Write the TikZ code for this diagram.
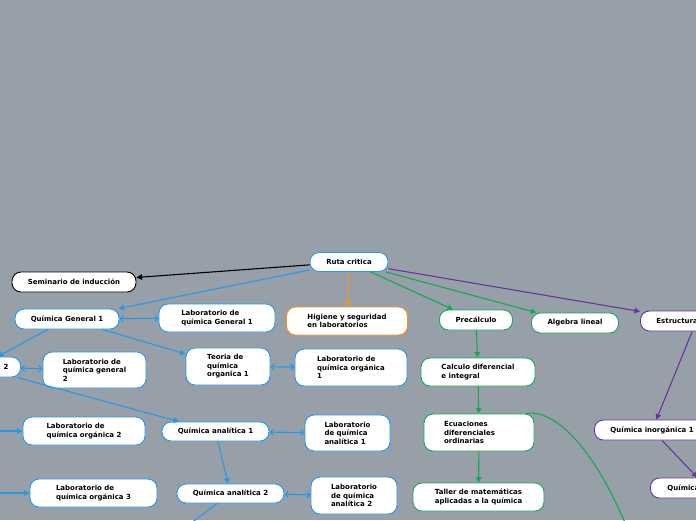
\documentclass[tikz,border=0pt]{standalone}
\usepackage{fontspec}
\setmainfont{DejaVu Sans}
\usepackage{xcolor}
\usetikzlibrary{arrows.meta}
\definecolor{bgc}{RGB}{151,160,169}
\definecolor{blu}{RGB}{40,152,228}
\definecolor{grn}{RGB}{22,166,88}
\definecolor{org}{RGB}{246,146,30}
\definecolor{prp}{RGB}{104,52,156}

\begin{document}
\begin{tikzpicture}[x=1pt,y=-1pt,>={Triangle[length=5.5pt,width=5.5pt]},
  bx/.style={draw=blu,fill=white,line width=0.9pt,rounded corners=9pt,align=left,
    font=\fontsize{7}{8.5}\selectfont\bfseries,minimum height=20pt,inner xsep=8pt,inner ysep=2pt},
  ln/.style={line width=1.1pt,blu},
  dbl/.style={line width=1.1pt,blu,{Straight Barb[length=3pt,width=6pt]}-{Straight Barb[length=3pt,width=6pt]}}]
  \useasboundingbox (0,0) rectangle (696,520);
  \fill[bgc] (0,0) rectangle (696,520);
  \clip (0,0) rectangle (696,520);
  \node[bx,minimum width=78pt,minimum height=19pt](rc) at (349,262){Ruta critica};
  \node[bx,draw=black,minimum width=124pt](sem) at (74,282){Seminario de inducción};
  \node[bx,minimum width=104pt](qg1) at (67,319){Química General 1};
  \node[bx,minimum width=116pt,minimum height=28pt](lqg1) at (217,318){Laboratorio de\\química General 1};
  \node[bx,draw=org,minimum width=121pt,minimum height=28pt](hig) at (347,321){Higiene y seguridad\\en laboratorios};
  \node[bx,draw=grn,minimum width=73pt](pre) at (476,320){Precálculo};
  \node[bx,draw=grn,minimum width=87pt](alg) at (575,323){Algebra lineal};
  \node[bx,draw=prp,anchor=west,text width=80pt,inner xsep=16pt](est) at (640,321){Estructura};
  \node[bx,anchor=east,text width=60pt,align=right,inner xsep=12pt](qg2) at (21,367){2};
  \node[bx,minimum width=103pt,minimum height=36pt](lqg2) at (94.5,370){Laboratorio de\\química general\\2};
  \node[bx,minimum width=84pt,minimum height=37pt](tqo1) at (228,366.5){Teoria de\\química\\organica 1};
  \node[bx,minimum width=112pt,minimum height=37pt](lqo1) at (351,367.5){Laboratorio de\\química orgánica\\1};
  \node[bx,draw=grn,minimum width=114pt,minimum height=28pt](cal) at (478,372){Calculo diferencial\\e integral};
  \node[bx,minimum width=122pt,minimum height=28pt](lqo2) at (84,431){Laboratorio de\\química orgánica 2};
  \node[bx,minimum width=107pt,minimum height=19pt](qa1) at (215.5,431.5){Química analítica 1};
  \node[bx,minimum width=85pt,minimum height=36pt](lqa1) at (347.5,433){Laboratorio\\de química\\analítica 1};
  \node[bx,draw=grn,minimum width=110pt,minimum height=37pt,text width=70pt](ecu) at (479,432.5){Ecuaciones\\diferenciales\\ordinarias};
  \node[bx,draw=prp,anchor=west,inner xsep=16pt](qi1) at (594,430){Química inorgánica 1};
  \node[bx,draw=prp,anchor=west,text width=80pt,inner xsep=17pt](qi2) at (650,488){Química};
  \node[bx,minimum width=127pt,minimum height=28pt](lqo3) at (93.5,493){Laboratorio de\\química orgánica 3};
  \node[bx,minimum width=107pt,minimum height=19pt](qa2) at (230.5,493.5){Química analítica 2};
  \node[bx,minimum width=86pt,minimum height=37pt](lqa2) at (354,495.5){Laboratorio\\de química\\analítica 2};
  \node[bx,draw=grn,minimum width=131pt,minimum height=28pt,align=center](tal) at (478.5,497){Taller de matemáticas\\aplicadas a la química};
  \coordinate(o2) at (-30,431);
  \coordinate(o3) at (-30,493);
  \coordinate(oa) at (150,554);
  \coordinate(oe) at (634,545);
  \draw[->,line width=1.1pt,black] (rc)--(sem);
  \draw[->,ln] (rc)--(qg1);
  \draw[->,ln,org] (rc)--(hig);
  \draw[->,ln,grn] (rc)--(pre);
  \draw[->,ln,grn] (rc)--(alg);
  \draw[->,ln,prp] (rc)--(est);
  \draw[dbl] (qg1)--(lqg1);
  \draw[->,ln] (qg1)--(tqo1);
  \draw[->,ln] (qg1)--(qg2);
  \draw[dbl] (qg2)--(lqg2);
  \draw[->,ln] (qg2)--(qa1);
  \draw[dbl] (tqo1)--(lqo1);
  \draw[->,ln] (o2)--(lqo2);
  \draw[->,ln] (o3)--(lqo3);
  \draw[dbl] (qa1)--(lqa1);
  \draw[->,ln] (qa1)--(qa2);
  \draw[dbl] (qa2)--(lqa2);
  \draw[->,ln] (qa2)--(oa);
  \draw[->,ln,grn] (pre)--(cal);
  \draw[->,ln,grn] (cal)--(ecu);
  \draw[->,ln,grn] (ecu)--(tal);
  \draw[->,ln,grn] (ecu.22) .. controls (556,408) and (598,452) .. (oe);
  \draw[->,ln,prp] (est)--(qi1);
  \draw[->,ln,prp] (qi1)--(qi2);
\end{tikzpicture}
\end{document}
